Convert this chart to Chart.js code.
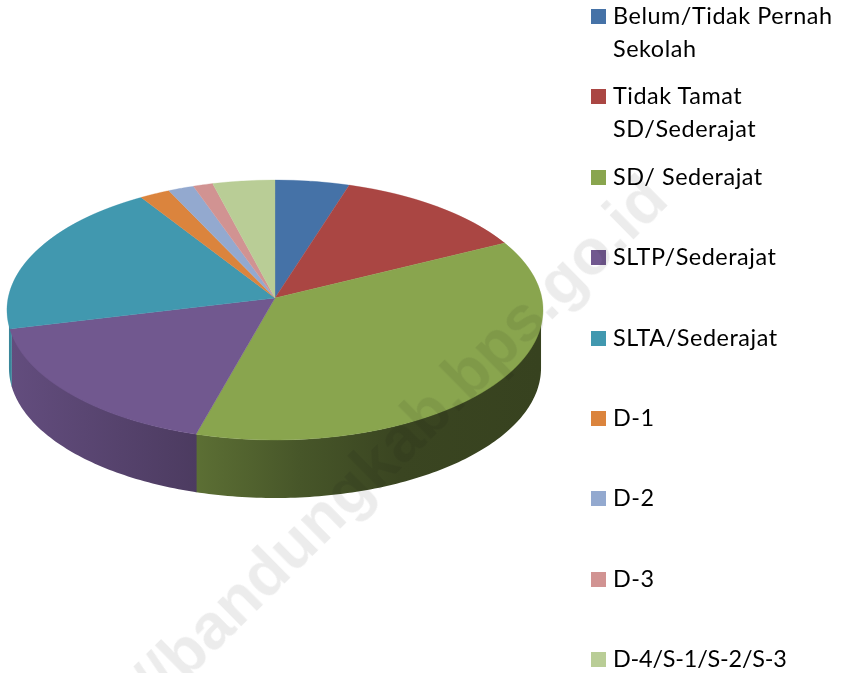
<!DOCTYPE html>
<html>
<head>
<meta charset="utf-8">
<title>Pendidikan</title>
<script src="https://cdn.jsdelivr.net/npm/chart.js@4/dist/chart.umd.js"></script>
<style>
  html, body { margin: 0; padding: 0; background: #fff; overflow: hidden; }
  #wrap { position: relative; width: 843px; height: 673px; overflow: hidden; }
  #chart { position: absolute; left: 0; top: 0; }
  #legend { position: absolute; left: 591px; top: -1px; margin: 0; padding: 0; list-style: none; width: 252px;
    font: 23.4px/32.5px Lato, sans-serif; letter-spacing: 0.55px; color: #000; }
  #legend li { height: 80.4px; display: flex; align-items: flex-start; }
  #legend li:last-child { letter-spacing: -0.2px; }
  #legend i { flex: none; width: 15px; height: 15px; margin: 10px 7px 0 0; }
  #mark { position: absolute; left: 349px; top: 489px; white-space: nowrap; pointer-events: none;
    font: bold 64px "Liberation Sans", sans-serif; color: rgba(0, 0, 0, 0.075);
    transform: translate(-50%, -50%) rotate(-44.6deg); }
</style>
</head>
<body>
<div id="wrap">
  <canvas id="chart" width="843" height="673"></canvas>
  <ol id="legend"></ol>
  <div id="mark">http://bandungkab.bps.go.id</div>
</div>
<script>
var categories = ['Belum/Tidak Pernah Sekolah', 'Tidak Tamat SD/Sederajat', 'SD/ Sederajat',
  'SLTP/Sederajat', 'SLTA/Sederajat', 'D-1', 'D-2', 'D-3', 'D-4/S-1/S-2/S-3'];
var values = [4.9, 12.8, 36.7, 16.9, 19.7, 2.0, 1.7, 1.3, 4.1];
var colors = ['#4572A7', '#AA4643', '#89A54E', '#71588F', '#4198AF', '#DB843D', '#93A9CF', '#D19392', '#B9CD96'];

// tilted disc: apex of the slices and how the flat pie maps to the screen
var tilt = { cx: 275, cy: 298, rx: 266.9, a: 128.9, k: 0.0923, depth: 58, wallScale: 0.9925 };
// wall darkening from left to right, [x, factor]
var wallShade = [[10, 0.88], [197, 0.67], [300, 0.52], [400, 0.42], [541, 0.40]];

function vAt(y) {
  var t = (y - tilt.cy) / tilt.a;
  return t / (1 + tilt.k * t);
}

function project(angle) {
  var u = Math.cos(angle), v = Math.sin(angle), w = 1 / (1 - tilt.k * v);
  return { x: tilt.cx + tilt.rx * tilt.wallScale * u * w, y: tilt.cy + tilt.a * v * w };
}

function shaded(ctx, hex) {
  var r = parseInt(hex.slice(1, 3), 16), g = parseInt(hex.slice(3, 5), 16), b = parseInt(hex.slice(5, 7), 16);
  var grad = ctx.createLinearGradient(wallShade[0][0], 0, wallShade[wallShade.length - 1][0], 0);
  var span = wallShade[wallShade.length - 1][0] - wallShade[0][0];
  wallShade.forEach(function (s) {
    grad.addColorStop((s[0] - wallShade[0][0]) / span,
      'rgb(' + Math.round(r * s[1]) + ',' + Math.round(g * s[1]) + ',' + Math.round(b * s[1]) + ')');
  });
  return grad;
}

function drawWall(ctx, arc, color) {
  var edge = Math.asin(tilt.k);
  // run a little under the next slice so no light seam shows
  var from = Math.max(arc.startAngle, edge), to = Math.min(arc.endAngle + 0.006, Math.PI - edge);
  if (to <= from) return;
  var steps = Math.ceil((to - from) * 60), pts = [], i;
  for (i = 0; i <= steps; i++) pts.push(project(from + (to - from) * i / steps));
  ctx.beginPath();
  pts.forEach(function (p, n) { n ? ctx.lineTo(p.x, p.y) : ctx.moveTo(p.x, p.y); });
  for (i = steps; i >= 0; i--) ctx.lineTo(pts[i].x, pts[i].y + tilt.depth);
  ctx.closePath();
  ctx.fillStyle = shaded(ctx, color);
  ctx.fill();
}

var tiltedPie = {
  id: 'tiltedPie',
  beforeDatasetsDraw: function (chart) {
    var ctx = chart.ctx, arcs = chart.getDatasetMeta(0).data;
    var r0 = arcs[0].outerRadius, cx0 = arcs[0].x, cy0 = arcs[0].y;
    arcs.forEach(function (arc, i) { drawWall(ctx, arc, colors[i]); });

    // each pixel row of the top face gets its own scale, so the library arcs follow the tilt
    for (var y = 170; y < 450; y++) {
      var vTop = vAt(y), vBot = vAt(y + 1);
      var w = 1 + tilt.k * (y + 0.5 - tilt.cy) / tilt.a;
      var sx = tilt.rx * w / r0, sy = 1 / ((vBot - vTop) * r0);
      ctx.save();
      ctx.beginPath();
      ctx.rect(0, y, 843, 1);
      ctx.clip();
      ctx.setTransform(sx, 0, 0, sy, tilt.cx - cx0 * sx, y - (cy0 + vTop * r0) * sy);
      arcs.forEach(function (arc) { arc.draw(ctx); });
      ctx.restore();
    }
    ctx.setTransform(1, 0, 0, 1, 0, 0);
    return false;
  }
};

new Chart(document.getElementById('chart').getContext('2d'), {
  type: 'pie',
  data: {
    labels: categories,
    datasets: [{
      data: values,
      backgroundColor: colors,
      borderColor: colors,
      borderWidth: 0.6
    }]
  },
  options: {
    responsive: false,
    animation: false,
    plugins: { legend: { display: false }, tooltip: { enabled: false } }
  },
  plugins: [tiltedPie]
});

// legend on the right, long labels wrap like the original
var legend = document.getElementById('legend');
categories.forEach(function (name, i) {
  var li = document.createElement('li');
  var box = document.createElement('i');
  box.style.background = colors[i];
  var text = document.createElement('span');
  text.textContent = name;
  li.appendChild(box);
  li.appendChild(text);
  legend.appendChild(li);
});
</script>
</body>
</html>
